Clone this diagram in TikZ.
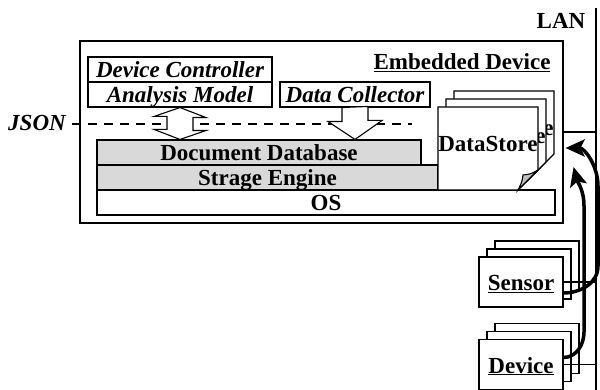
\documentclass[tikz,border=0pt]{standalone}
\usepackage{fontspec}
\setmainfont{Liberation Serif}
\usetikzlibrary{arrows.meta,calc}

\tikzset{
  box/.style={draw, fill=white, minimum height=25pt},
  layer/.style={box, fill=black!15},
  unit/.style={draw, fill=white, minimum width=84pt, minimum height=50pt},
  page/.style={draw, fill=white},
  flow/.style={line width=3.5pt, -{Stealth[length=19pt,width=17pt,inset=4pt]}},
}

\begin{document}
\begin{tikzpicture}[x=1pt, y=-1pt, line width=1.1pt,
    every node/.style={inner sep=0pt, text height=18pt, text depth=1pt,
      font=\fontsize{23}{24}\selectfont\bfseries}]
    \useasboundingbox (0,0) rectangle (600,390);

    % LAN backbone
    \coordinate (lantop) at (596,8);
    \coordinate (lanbot) at (596,390);
    \draw (lantop) -- (lanbot);
    \node (lan) at (561,20) {LAN};

    % Embedded device frame
    \node (embed) at (321.5,132) [draw, minimum width=483pt, minimum height=182pt] {};
    \node (embedlabel) at (462,61) {\underline{Embedded Device}};

    % Applications
    \node (ctrl) at (180,69.5) [box, minimum width=184pt] {\itshape Device Controller};
    \node (model) at (180,94.5) [box, minimum width=184pt] {\itshape Analysis Model};
    \node (collector) at (355,94.5) [box, minimum width=150pt] {\itshape Data Collector};

    % JSON interface
    \node (json) at (37,122) {\itshape JSON};
    \coordinate (jsonend) at (412,124);
    \draw[line width=1.6pt, dash pattern=on 9pt off 7pt] (json.east |- jsonend) ++(6,0) -- (jsonend);

    % Storage layers
    \node (db) at (259,152.5) [layer, minimum width=324pt] {Document Database};
    \node (engine) at (267.5,177.5) [layer, minimum width=341pt] {Strage Engine};
    \node (os) at (326,202.5) [box, minimum width=458pt] {OS};

    % Block arrows
    \filldraw[fill=white] (model.south) -- ++(26,10) -- ++(-13,0) -- ++(0,13) -- ++(13,0)
        -- (model.south |- db.north) -- ++(-26,-10) -- ++(13,0) -- ++(0,-13) -- ++(-13,0) -- cycle;
    \filldraw[fill=white] ([xshift=-13pt]collector.south) -- ++(0,14) -- ++(-14,0)
        -- (collector.south |- db.north) -- ++(27,-19) -- ++(-14,0) -- ++(0,-14) -- cycle;

    % DataStore pages
    \foreach \d in {16,8} {
      \begin{scope}[shift={(\d,-\d)}]
        \filldraw[page] (438,107) -- (538,107) -- (538,170) -- (518,190) -- (438,190) -- cycle;
        \node (store\d) at (488,143) {DataStore};
      \end{scope}
    }
    \filldraw[page] (438,107) -- (538,107) -- (538,170) -- (518,190) -- (438,190) -- cycle;
    \node (store) at (488,143) {DataStore};
    \filldraw[fill=black!25] (538,170) .. controls (531,174) .. (523,175)
        .. controls (522,182) .. (518,190) -- cycle;

    % Sensors and devices
    \node (sensor3) at (537,266) [unit] {};
    \node (sensor2) at (529,274) [unit] {};
    \node (sensor) at (521,282) [unit] {\underline{Sensor}};
    \node (device3) at (537,348.5) [unit] {};
    \node (device2) at (529,356.5) [unit] {};
    \node (device) at (521,364.5) [unit] {\underline{Device}};

    % Links to LAN
    \draw (embed.east) -- (embed.east -| lantop);
    \draw (sensor.east) -- (sensor.east -| lantop);
    \draw (device.east) -- (device.east -| lantop);

    % Data flow
    \draw[flow] ([yshift=-11pt]sensor.east) to[out=0,in=-90] (598,266) -- (598,186)
        to[out=90,in=0] ([xshift=2pt,yshift=-16pt]embed.east);
    \draw[flow] ([yshift=7pt]device.east) to[out=0,in=-90] (584,332) -- (584,206)
        to[out=90,in=-75] ([xshift=10pt,yshift=-35pt]embed.east);
\end{tikzpicture}
\end{document}
